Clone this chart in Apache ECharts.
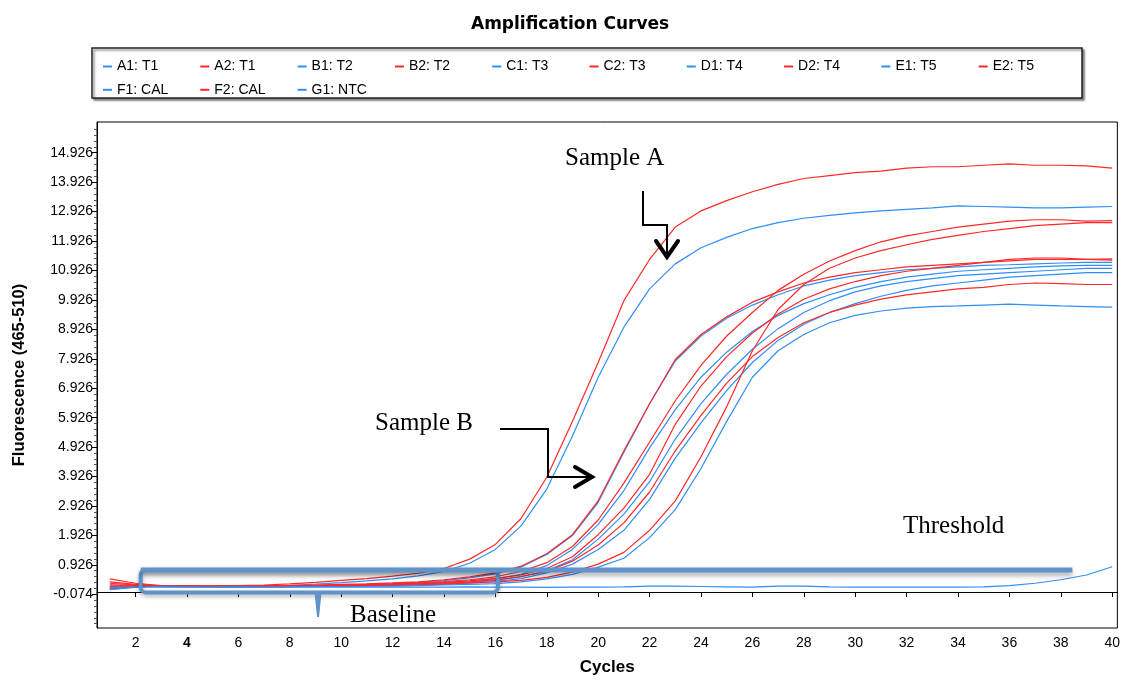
<!DOCTYPE html>
<html><head><meta charset="utf-8">
<script src="https://cdn.jsdelivr.net/npm/echarts@6/dist/echarts.min.js"></script>
<style>html,body{margin:0;padding:0;background:#fff}#c{width:1123px;height:681px}</style>
</head><body><div id="c"></div>
<script>
// ---------- DATA ----------
const cycles = [1,2,3,4,5,6,7,8,9,10,11,12,13,14,15,16,17,18,19,20,21,22,23,24,25,26,27,28,29,30,31,32,33,34,35,36,37,38,39,40];
const seriesNames = ['A1: T1','A2: T1','B1: T2','B2: T2','C1: T3','C2: T3','D1: T4','D2: T4','E1: T5','E2: T5','F1: CAL','F2: CAL','G1: NTC'];
const A1 = [0.18,0.22,0.2,0.2,0.19,0.2,0.21,0.23,0.27,0.32, 0.38,0.45,0.55,0.7,0.98,1.45,2.25,3.5,5.3,7.3, 9.0,10.3,11.15,11.7,12.05,12.35,12.55,12.7,12.8,12.88, 12.95,13.0,13.05,13.12,13.1,13.08,13.05,13.05,13.08,13.1];
const A2 = [0.45,0.3,0.22,0.2,0.2,0.22,0.24,0.28,0.33,0.4, 0.46,0.54,0.64,0.8,1.12,1.62,2.5,3.9,5.8,7.8, 9.9,11.3,12.4,12.95,13.3,13.6,13.85,14.05,14.15,14.25, 14.3,14.4,14.45,14.45,14.5,14.55,14.5,14.5,14.48,14.4];
const B1 = [0.15,0.22,0.2,0.19,0.19,0.2,0.2,0.21,0.22,0.24, 0.26,0.29,0.33,0.39,0.48,0.62,0.85,1.28,1.92,3.05, 4.75,6.4,7.85,8.7,9.3,9.75,10.1,10.4,10.6,10.75, 10.85,10.95,11.0,11.05,11.1,11.12,11.15,11.18,11.2,11.2];
const B2 = [0.3,0.24,0.2,0.19,0.2,0.2,0.21,0.22,0.24,0.26, 0.28,0.31,0.35,0.42,0.52,0.65,0.88,1.3,1.95,3.1, 4.8,6.4,7.9,8.75,9.35,9.85,10.2,10.5,10.7,10.85, 10.95,11.05,11.1,11.15,11.2,11.25,11.3,11.3,11.3,11.28];
const C1 = [0.12,0.2,0.19,0.18,0.18,0.19,0.19,0.2,0.21,0.22, 0.24,0.26,0.29,0.33,0.38,0.46,0.6,0.9,1.45,2.3, 3.45,4.9,6.2,7.3,8.15,8.85,9.4,9.8,10.1,10.35, 10.55,10.7,10.8,10.9,10.95,11.0,11.05,11.08,11.1,11.1];
const C2 = [0.1,0.19,0.2,0.2,0.19,0.2,0.2,0.21,0.22,0.24, 0.26,0.28,0.31,0.36,0.42,0.52,0.7,1.0,1.55,2.45, 3.7,5.1,6.5,7.7,8.7,9.5,10.25,10.8,11.25,11.6, 11.9,12.1,12.25,12.4,12.5,12.6,12.65,12.65,12.6,12.62];
const D1 = [0.2,0.22,0.2,0.19,0.18,0.18,0.19,0.2,0.2,0.21, 0.22,0.24,0.26,0.29,0.33,0.4,0.52,0.72,1.1,1.8, 2.65,3.75,5.2,6.4,7.4,8.25,8.95,9.5,9.9,10.2, 10.4,10.55,10.65,10.75,10.8,10.85,10.9,10.95,11.0,11.0];
const D2 = [0.25,0.23,0.21,0.2,0.2,0.2,0.21,0.21,0.22,0.23, 0.24,0.26,0.29,0.32,0.38,0.46,0.58,0.8,1.2,1.95, 2.85,4.0,5.7,7.0,8.0,8.8,9.45,9.95,10.3,10.55, 10.75,10.9,11.0,11.1,11.2,11.3,11.35,11.35,11.3,11.32];
const E1 = [0.14,0.2,0.2,0.19,0.19,0.18,0.18,0.19,0.19,0.2, 0.21,0.22,0.24,0.26,0.3,0.36,0.46,0.65,0.95,1.45, 2.1,3.15,4.55,5.75,6.85,7.8,8.55,9.1,9.5,9.8, 10.05,10.25,10.4,10.5,10.6,10.7,10.75,10.8,10.85,10.85];
const E2 = [0.35,0.26,0.21,0.2,0.2,0.19,0.2,0.2,0.21,0.22, 0.23,0.25,0.27,0.3,0.35,0.42,0.53,0.7,1.05,1.6, 2.35,3.4,4.8,6.0,7.1,8.0,8.65,9.15,9.5,9.75, 9.95,10.1,10.2,10.3,10.35,10.45,10.5,10.48,10.45,10.45];
const F1 = [0.16,0.21,0.2,0.19,0.18,0.18,0.18,0.18,0.19,0.19, 0.2,0.21,0.22,0.24,0.26,0.29,0.35,0.45,0.6,0.85, 1.15,1.85,2.8,4.2,5.8,7.3,8.2,8.75,9.15,9.4, 9.55,9.65,9.7,9.72,9.75,9.78,9.75,9.72,9.7,9.68];
const F2 = [0.2,0.22,0.21,0.2,0.2,0.2,0.2,0.21,0.21,0.22, 0.23,0.24,0.26,0.28,0.31,0.35,0.4,0.5,0.68,0.95, 1.35,2.1,3.1,4.6,6.3,8.2,9.6,10.45,11.0,11.35, 11.6,11.8,11.98,12.12,12.25,12.35,12.45,12.5,12.55,12.55];
const G1 = [0.08,0.16,0.18,0.17,0.17,0.18,0.17,0.17,0.18,0.17, 0.17,0.18,0.17,0.17,0.18,0.17,0.17,0.16,0.17,0.17, 0.18,0.2,0.2,0.19,0.18,0.17,0.2,0.2,0.18,0.17, 0.17,0.17,0.17,0.17,0.18,0.22,0.3,0.42,0.58,0.86];
const seriesValues = [A1,A2,B1,B2,C1,C2,D1,D2,E1,E2,F1,F2,G1];
const xTickLabels = ['2','4','6','8','10','12','14','16','18','20','22','24','26','28','30','32','34','36','38','40'];
const yTickLabels = ['-0.074','0.926','1.926','2.926','3.926','4.926','5.926','6.926','7.926','8.926','9.926','10.926','11.926','12.926','13.926','14.926'];
// annotation positions in data space (threshold line and baseline bracket)
const thresholdValue = 0.75;
const thresholdCycles = [2.2, 38.45];
const baselineCycles = [2.2, 16.1];
const baselineBottom = -0.01;
const baselineTail = [9.1, -0.85];

// ---------- STYLE ----------
const BLUE = '#2f8ef8', RED = '#ff2828';
const ANNO = '#5f93c9';
const xTickVals = xTickLabels.map(Number);
const yTickVals = yTickLabels.map(Number);
const yMinor = [];
for (let i = 0; i < yTickVals.length; i++) {
  for (let k = 1; k < 5; k++) {
    const v = yTickVals[i] + k * 0.2;
    if (v < 15.9) yMinor.push(+v.toFixed(3));
  }
}
yMinor.push(-0.274, -0.474, -0.674, -0.874, -1.074);

const chart = echarts.init(document.getElementById('c'), null, {renderer: 'canvas'});

const series = seriesNames.map((n, i) => ({
  name: n, type: 'line', showSymbol: false, animation: false,
  color: i % 2 === 0 ? BLUE : RED,
  lineStyle: {width: 1.2, color: i % 2 === 0 ? BLUE : RED},
  data: cycles.map((c, j) => [c, seriesValues[i][j]]),
  z: 2
}));

const option = {
  backgroundColor: '#fff',
  animation: false,
  title: {
    text: 'Amplification Curves', left: 466, top: 11,
    textStyle: {fontFamily: 'DejaVu Sans', fontWeight: 'bold', fontSize: 17, color: '#000'}
  },
  legend: {
    data: seriesNames, left: 98, top: 54, width: 975,
    icon: 'rect', itemWidth: 9, itemHeight: 2, itemGap: 8.3,
    formatter: n => '{a|' + n + '}',
    textStyle: {fontFamily: 'Liberation Sans', fontSize: 14, color: '#000',
      rich: {a: {width: 75, height: 15, lineHeight: 15, fontSize: 14, fontFamily: 'Liberation Sans', color: '#000'}}},
    selectedMode: false
  },
  grid: {left: 97, right: 3, top: 122, bottom: 49, show: true, borderColor: '#000', borderWidth: 1},
  xAxis: {
    type: 'value', min: 0.5, max: 40.2,
    axisLine: {lineStyle: {color: '#000', width: 1}},
    axisTick: {customValues: xTickVals, length: 5, lineStyle: {color: '#000'}},
    axisLabel: {customValues: xTickVals, fontFamily: 'Liberation Sans', fontSize: 14, color: '#000', margin: 8,
      formatter: v => v === 4 ? '{b|4}' : String(v),
      rich: {b: {fontWeight: 'bold', fontSize: 14, fontFamily: 'Liberation Sans', color: '#000'}}},
    splitLine: {show: false},
    name: 'Cycles', nameLocation: 'middle', nameGap: 31,
    nameTextStyle: {fontFamily: 'Liberation Sans', fontWeight: 'bold', fontSize: 17, color: '#000'}
  },
  yAxis: [{
    type: 'value', min: -1.22, max: 15.97,
    axisLine: {show: true, lineStyle: {color: '#000', width: 1}},
    axisTick: {show: true, customValues: yTickVals, length: 5, lineStyle: {color: '#000'}},
    axisLabel: {customValues: yTickVals, fontFamily: 'Liberation Sans', fontSize: 14, color: '#000', margin: 4,
      formatter: v => yTickLabels[yTickVals.indexOf(v)] ?? v.toFixed(3)},
    splitLine: {show: false},
    name: 'Fluorescence (465-510)', nameLocation: 'middle', nameGap: 69,
    nameTextStyle: {fontFamily: 'Liberation Sans', fontWeight: 'bold', fontSize: 16.5, color: '#000'}
  }, {
    type: 'value', min: -1.22, max: 15.97, position: 'left',
    axisLine: {show: false},
    axisTick: {show: true, customValues: yMinor, length: 3, lineStyle: {color: '#555'}},
    axisLabel: {show: false}, splitLine: {show: false}
  }],
  graphic: {elements: [
    {id: 'legendBox', type: 'rect', z: 0, shape: {x: 92, y: 48, width: 990, height: 50},
      style: {fill: '#fff', stroke: '#222', lineWidth: 1.5, shadowBlur: 2, shadowOffsetX: 2, shadowOffsetY: 2, shadowColor: 'rgba(0,0,0,0.45)'}},
    {id: 'tA', type: 'text', z: 100, x: 565, y: 158, style: {text: 'Sample A', font: '25px "Liberation Serif"', fill: '#000', textVerticalAlign: 'middle'}},
    {id: 'tB', type: 'text', z: 100, x: 375, y: 423, style: {text: 'Sample B', font: '25px "Liberation Serif"', fill: '#000', textVerticalAlign: 'middle'}},
    {id: 'tT', type: 'text', z: 100, x: 903, y: 526, style: {text: 'Threshold', font: '25px "Liberation Serif"', fill: '#000', textVerticalAlign: 'middle'}},
    {id: 'tBL', type: 'text', z: 100, x: 350, y: 615, style: {text: 'Baseline', font: '25px "Liberation Serif"', fill: '#000', textVerticalAlign: 'middle'}},
    {id: 'arA', type: 'polyline', z: 100, shape: {points: [[643,191],[643,225],[667,225],[667,254]]}, style: {stroke: '#000', lineWidth: 2, fill: null}},
    {id: 'arAh', type: 'polyline', z: 100, shape: {points: [[656,241],[667,257],[678,241]]}, style: {stroke: '#000', lineWidth: 4, lineCap: 'round', lineJoin: 'miter', fill: null}},
    {id: 'arB', type: 'polyline', z: 100, shape: {points: [[500,429],[548,429],[548,477],[590,477]]}, style: {stroke: '#000', lineWidth: 2, fill: null}},
    {id: 'arBh', type: 'polyline', z: 100, shape: {points: [[575,467],[592,477],[575,487]]}, style: {stroke: '#000', lineWidth: 4, lineCap: 'round', fill: null}}
  ]},
  series: series
};
chart.setOption(option);

// threshold line and baseline bracket placed through the chart's own scales
const p = (c, v) => chart.convertToPixel({gridIndex: 0}, [c, v]);
const t0 = p(thresholdCycles[0], thresholdValue), t1 = p(thresholdCycles[1], thresholdValue);
const b0 = p(baselineCycles[0], thresholdValue), b1 = p(baselineCycles[1], baselineBottom);
const tail = p(baselineTail[0], baselineTail[1]);
chart.setOption({graphic: {elements: [
  {id: 'bracket', type: 'rect', z: 101, shape: {x: b0[0], y: b0[1], width: b1[0] - b0[0], height: b1[1] - b0[1], r: 5},
    style: {fill: null, stroke: ANNO, lineWidth: 4, shadowBlur: 4, shadowOffsetY: 2, shadowColor: 'rgba(0,0,0,0.3)'}},
  {id: 'tail', type: 'polygon', z: 101, shape: {points: [[tail[0] - 3.5, b1[1]], [tail[0] + 3.5, b1[1]], [tail[0] + 1, tail[1]], [tail[0] - 1, tail[1]]]},
    style: {fill: ANNO}},
  {id: 'thr', type: 'line', z: 102, shape: {x1: t0[0], y1: t0[1], x2: t1[0], y2: t1[1]},
    style: {stroke: ANNO, lineWidth: 5, shadowBlur: 5, shadowOffsetY: 3, shadowColor: 'rgba(0,0,0,0.35)'}}
]}});
</script>
</body></html>
